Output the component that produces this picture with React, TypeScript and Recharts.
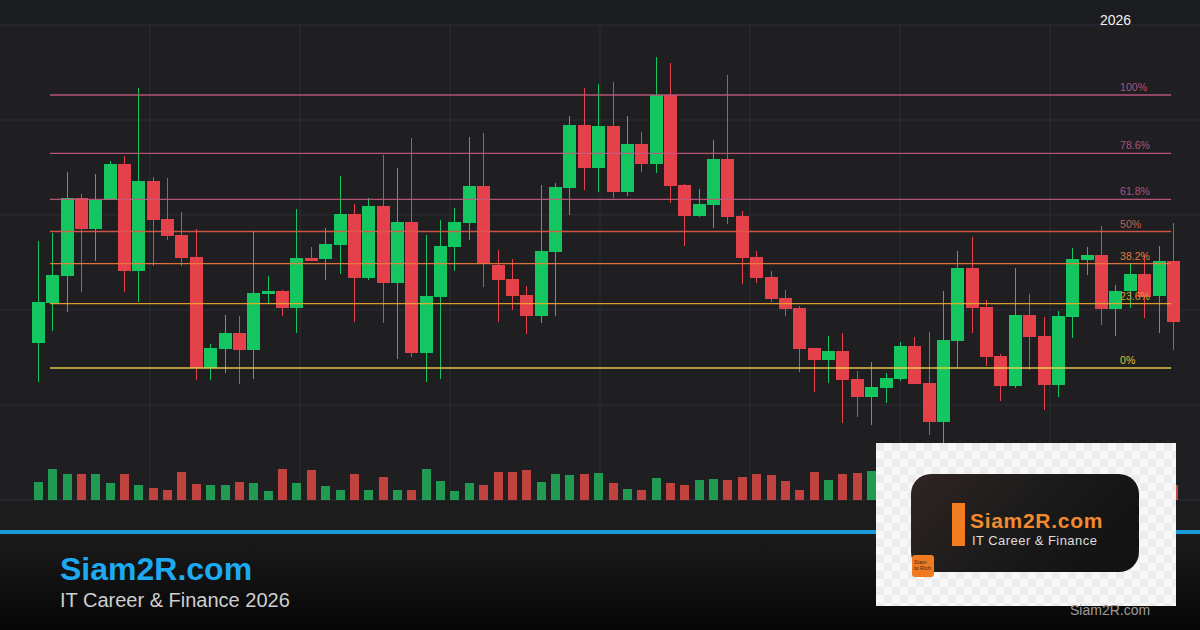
import React from "react";
import { ComposedChart, Bar, XAxis, YAxis, CartesianGrid, ReferenceLine } from "recharts";

// ---- data ----
const OPEN = [287,327,354,432,401,430,466,359,449,411, 395,373,262,281,297,280,336,339,322,372, 371,385,416,352,424,347,408,277,333,383, 407,444,365,351,335,314,378,442,505,462, 504,438,486,466,535,445,414,425,471,414, 373,353,332,322,282,270,279,251,233,242, 251,284,247,208,289,362,323,274,244,315, 294,245,313,370,375,321,339,356,334,369];
const HIGH = [389,397,458,436,456,469,474,542,453,452, 418,401,286,315,314,399,354,340,421,383, 402,454,426,432,475,462,492,395,410,422, 493,497,380,371,344,445,447,514,542,546, 548,514,498,573,567,446,441,490,555,419, 379,359,340,324,282,294,297,259,268,257, 288,293,298,339,379,393,330,276,362,336, 313,319,382,383,404,345,367,375,384,407];
const LOW = [248,299,318,338,369,430,338,328,364,390, 364,250,250,257,246,251,327,314,297,369, 350,356,308,350,307,271,273,248,251,359, 390,343,308,320,296,307,314,415,440,438, 432,434,458,457,427,384,413,402,406,346, 347,328,314,258,238,247,207,213,205,227, 249,246,195,187,262,297,264,229,242,260, 220,233,292,355,305,294,322,312,297,280];
const CLOSE = [328,355,432,401,430,466,359,449,410,394, 372,262,282,297,280,337,339,322,372,369, 386,416,352,424,347,408,277,334,384,408, 444,366,350,334,314,379,443,505,462,504, 438,486,466,535,444,414,426,471,413,372, 352,331,321,281,270,279,250,233,243,252, 284,246,208,290,362,322,273,244,315,293, 245,314,371,375,321,339,356,333,369,308];
const VOLUME = [1800,3100,2600,2600,2600,1700,2600,1500,1200,1000, 2800,1600,1500,1500,1800,1700,900,3100,1700,3000, 1400,1000,2600,1000,2300,1000,1000,3100,1900,900, 1700,1500,2800,2800,3000,1800,2600,2500,2600,2700, 1700,1100,1000,2200,1700,1500,2000,2100,2000,2300, 2600,2500,1900,1000,2800,2000,2600,2700,2900,2200, 1800,2400,2700,3000,2500,1900,2100,2600,1600,2300, 2000,2800,2400,1800,2700,1500,2100,1900,2200,1500];

const FIB_LOW = 262;
const FIB_HIGH = 535;
const FIB_RATIOS = [1, 0.786, 0.618, 0.5, 0.382, 0.236, 0];
const FIB_LABELS = ["100%", "78.6%", "61.8%", "50%", "38.2%", "23.6%", "0%"];
const FIB_LINE_COLORS = ["#c45a80", "#c45a80", "#c45a80", "#de5a4a", "#f07c40", "#f2aa30", "#f6d64a"];
const FIB_TEXT_COLORS = ["#b0527e", "#b0527e", "#b0527e", "#c0644e", "#e27c3e", "#d89c30", "#e2c03c"];
const FIB_START_INDEX = 0.87;
const FIB_END_INDEX = 78.9;

const PRICE_GRID_TICKS = [130, 225, 320, 415, 510, 605];
const PRICE_DOMAIN = [130, 605];
const VOLUME_DOMAIN = [0, 47500];
const X_DOMAIN = [-2.61, 80.91];
const V_GRID = [150, 300, 450, 600, 750, 900, 1050];

const GREEN = "#14c660";
const RED = "#e5414b";
const VOL_GREEN = "#219b53";
const VOL_RED = "#c0433f";
const FONT = '"Liberation Sans", Arial, sans-serif';

const data = OPEN.map((o, i) => ({
  i,
  open: o,
  high: HIGH[i],
  low: LOW[i],
  close: CLOSE[i],
  volume: VOLUME[i],
}));

const Candle = (props: any) => {
  const { x, y, width, height, payload } = props;
  if (!payload) return null;
  const { open, close, high, low } = payload;
  const top = Math.min(y, y + height);
  const bottom = Math.max(y, y + height);
  const span = high - low || 1;
  const py = (v: number) => top + ((high - v) / span) * (bottom - top);
  const up = close >= open;
  const color = up ? GREEN : RED;
  const cx = Math.round(x + width / 2) + 0.5;
  const bTop = py(Math.max(open, close));
  const bBot = py(Math.min(open, close));
  return (
    <g>
      <line x1={cx} x2={cx} y1={top} y2={bottom} stroke={color} strokeWidth={1} />
      <rect x={cx - 6.5} y={bTop} width={13} height={Math.max(bBot - bTop, 2)} fill={color} />
    </g>
  );
};

const VolBar = (props: any) => {
  const { x, y, width, height, payload } = props;
  if (!payload) return null;
  const up = payload.close >= payload.open;
  const cx = Math.round(x + width / 2) + 0.5;
  return <rect x={cx - 4.5} y={y} width={9} height={height} fill={up ? VOL_GREEN : VOL_RED} />;
};

const FibLabel = (props: any) => {
  const { viewBox, fibText, fibColor } = props;
  if (!viewBox) return null;
  const { x, y, width } = viewBox;
  return (
    <text x={x + width - 51} y={y - 4} fill={fibColor} fontSize={10.5} fontFamily={FONT}>
      {fibText}
    </text>
  );
};

export default function App() {
  return (
    <div
      style={{
        position: "absolute",
        left: 0,
        top: 0,
        width: 1200,
        height: 630,
        overflow: "hidden",
        background: "#1f1f21",
        fontFamily: FONT,
      }}
    >
      <div style={{ position: "absolute", left: 0, top: 0, width: 1200, height: 25, background: "#1b1c1f" }} />
      <div style={{ position: "absolute", left: 0, top: 0 }}>
        <ComposedChart width={1200} height={630} data={data} margin={{ top: 25, right: 0, bottom: 130, left: 0 }}>
          <XAxis xAxisId="px" type="number" dataKey="i" domain={X_DOMAIN} allowDataOverflow hide />
          <XAxis xAxisId="vx" type="number" dataKey="i" domain={X_DOMAIN} allowDataOverflow hide />
          <YAxis yAxisId="price" type="number" domain={PRICE_DOMAIN} ticks={PRICE_GRID_TICKS} allowDataOverflow hide />
          <YAxis yAxisId="vol" type="number" domain={VOLUME_DOMAIN} allowDataOverflow hide />
          <CartesianGrid
            xAxisId="px"
            yAxisId="price"
            stroke="#2b2e38"
            strokeWidth={1}
            verticalPoints={V_GRID}
          />
          <Bar
            xAxisId="vx"
            yAxisId="vol"
            dataKey="volume"
            barSize={9}
            shape={<VolBar />}
            isAnimationActive={false}
          />
          <Bar
            xAxisId="px"
            yAxisId="price"
            dataKey={(d: any) => [d.low, d.high]}
            barSize={13}
            shape={<Candle />}
            isAnimationActive={false}
          />
          {FIB_RATIOS.map((r, k) => {
            const level = FIB_LOW + r * (FIB_HIGH - FIB_LOW);
            return (
              <ReferenceLine
                key={FIB_LABELS[k]}
                xAxisId="px"
                yAxisId="price"
                segment={[
                  { x: FIB_START_INDEX, y: level },
                  { x: FIB_END_INDEX, y: level },
                ]}
                stroke={FIB_LINE_COLORS[k]}
                strokeWidth={1.3}
                strokeOpacity={0.9}
                zIndex={900}
                ifOverflow="extendDomain"
                label={<FibLabel fibText={FIB_LABELS[k]} fibColor={FIB_TEXT_COLORS[k]} />}
              />
            );
          })}
        </ComposedChart>
      </div>
      <svg
        width={1200}
        height={630}
        style={{ position: "absolute", left: 0, top: 0, pointerEvents: "none" }}
      >
        <defs>
          <linearGradient id="bannerGrad" x1="0" y1="0" x2="0" y2="1">
            <stop offset="0%" stopColor="#1b1b1b" />
            <stop offset="100%" stopColor="#060606" />
          </linearGradient>
          <linearGradient id="logoGrad" x1="0" y1="0" x2="1" y2="0.4">
            <stop offset="0%" stopColor="#2f2522" />
            <stop offset="55%" stopColor="#1c1b1b" />
            <stop offset="100%" stopColor="#131313" />
          </linearGradient>
          <pattern id="checker" x="876" y="443" width="16" height="16" patternUnits="userSpaceOnUse">
            <rect width="16" height="16" fill="#f7f7f7" />
            <rect width="8" height="8" fill="#ececec" />
            <rect x="8" y="8" width="8" height="8" fill="#ececec" />
          </pattern>
        </defs>
        <rect x={0} y={501} width={1200} height={29} fill="#1c1c1c" />
        <rect x={0} y={530} width={1200} height={4} fill="#1c9bd9" />
        <rect x={0} y={534} width={1200} height={96} fill="url(#bannerGrad)" />
        <text x={60} y={580} fontSize={32} fontWeight="bold" fill="#1eaaf0" fontFamily={FONT}>
          Siam2R.com
        </text>
        <text x={60} y={607} fontSize={20} fill="#cfcfcf" fontFamily={FONT}>
          IT Career &amp; Finance 2026
        </text>
        <text x={1100} y={25} fontSize={14} fill="#f2f2f2" fontFamily={FONT}>
          2026
        </text>

        <rect x={876} y={443} width={300} height={163} fill="url(#checker)" />
        <rect x={911} y={474} width={228} height={98} rx={20} ry={20} fill="url(#logoGrad)" />
        <rect x={952} y={503} width={13} height={43} fill="#f27c22" />
        <text x={970} y={528} fontSize={21} fontWeight="bold" letterSpacing={0.7} fill="#f28a2e" fontFamily={FONT}>
          Siam2R.com
        </text>
        <text x={972} y={545} fontSize={13} letterSpacing={0.45} fill="#dedede" fontFamily={FONT}>
          IT Career &amp; Finance
        </text>
        <rect x={912} y={555} width={22} height={22} rx={3} ry={3} fill="#f07a22" />
        <text x={914} y={564} fontSize={5.5} fill="#3a2614" fontFamily={FONT}>
          Siam
        </text>
        <text x={914} y={570} fontSize={5.5} fill="#3a2614" fontFamily={FONT}>
          to Rich
        </text>
        <text x={1070} y={615} fontSize={14} fill="#9d9d9d" fontFamily={FONT}>
          Siam2R.com
        </text>
      </svg>
    </div>
  );
}
